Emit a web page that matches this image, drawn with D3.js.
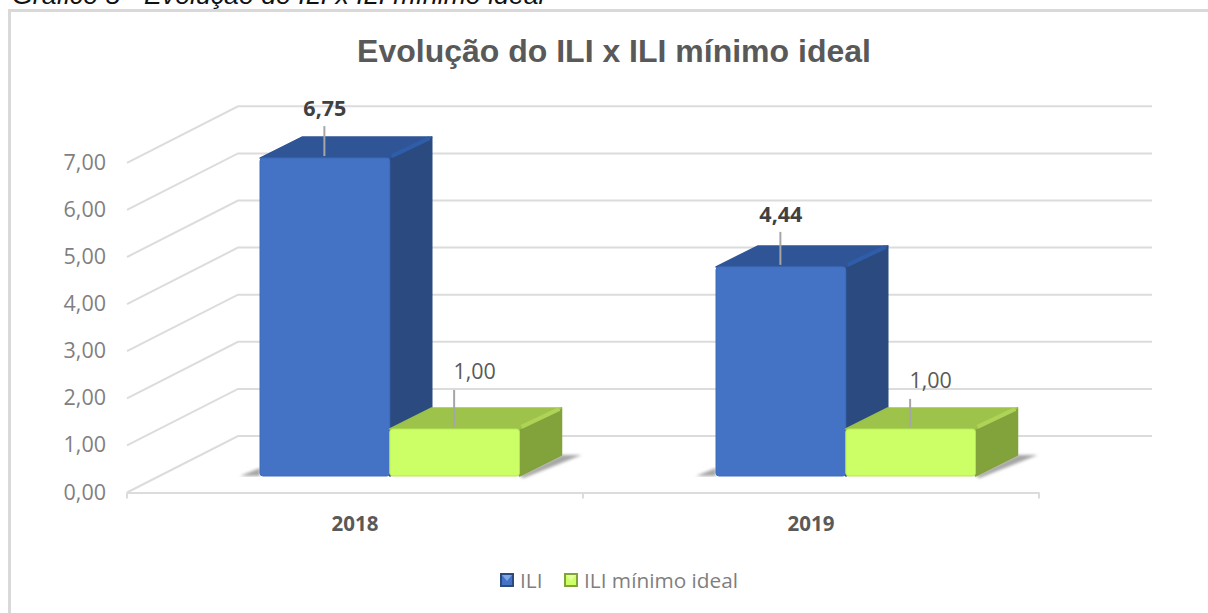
<!DOCTYPE html>
<html>
<head>
<meta charset="utf-8">
<script src="https://cdn.jsdelivr.net/npm/d3@7"></script>
<style>
  html, body { margin: 0; padding: 0; background: #fff; overflow: hidden; }
  svg { display: block; }
</style>
</head>
<body>
<div id="chart"></div>
<script>
// data
const categories = ["2018", "2019"];
const seriesNames = ["ILI", "ILI mínimo ideal"];
const iliValues = [6.75, 4.44];
const minimoValues = [1.00, 1.00];
const yTicks = [0, 1, 2, 3, 4, 5, 6, 7];

const width = 1208, height = 613;
const fmt = v => v.toFixed(2).replace(".", ",");
const labelFont = "'Open Sans', 'Noto Sans', sans-serif";

const svg = d3.select("#chart").append("svg")
  .attr("width", width)
  .attr("height", height);

// caption above the chart, the reference has it cut by the top edge too
svg.append("text")
  .attr("x", 12)
  .attr("y", 4)
  .style("font-family", "'Liberation Sans', Arial, sans-serif")
  .style("font-style", "italic")
  .style("font-size", "26.7px")
  .style("fill", "#111")
  .text("Gráfico 8 - Evolução do ILI x ILI mínimo ideal");

// chart frame, runs off the right and bottom of the picture
svg.append("path")
  .attr("d", `M9.5,${height}V10.5H${width}`)
  .attr("fill", "none")
  .attr("stroke", "#d9d9d9")
  .attr("stroke-width", 3);

svg.append("text")
  .attr("x", 614)
  .attr("y", 62)
  .attr("text-anchor", "middle")
  .style("font-family", "'Liberation Sans', Arial, sans-serif")
  .style("font-weight", "bold")
  .style("font-size", "32px")
  .style("fill", "#595959")
  .text("Evolução do ILI x ILI mínimo ideal");

// front plane scales, the walls and bars are pushed back from it
const x0 = d3.scaleBand().domain(categories).range([127, 1039]);
const x1 = d3.scaleBand().domain(seriesNames).range([100, 359.5]);
const y = d3.scaleLinear().domain([0, 7]).range([492.5, 162.8]);

const wallDepth = { dx: 111, dy: -56.5 };   // floor front edge to back wall
const barFront = { dx: 33, dy: -16.5 };     // floor front edge to bar front
const barDepth = { dx: 42, dy: -21 };       // bar front to bar back

// gridlines on the side wall and back wall, 0 is the back edge of the floor
const gridPath = v => {
  const xl = x0.range()[0];
  const xr = x0.range()[1] + wallDepth.dx + 2;
  return `M${xl},${y(v)}L${xl + wallDepth.dx},${y(v) + wallDepth.dy}L${xr},${y(v) + wallDepth.dy}`;
};

svg.append("g").selectAll("path")
  .data(yTicks)
  .enter().append("path")
    .attr("d", gridPath)
    .attr("fill", "none")
    .attr("stroke", "#dcdcdc")
    .attr("stroke-width", 2);

// category axis
const xAxis = svg.append("g")
  .attr("transform", `translate(0,${y(0)})`)
  .call(d3.axisBottom(x0).tickValues([]).tickSize(0));
xAxis.select(".domain").attr("stroke", "#dcdcdc").attr("stroke-width", 2);

const tickXs = [x0(categories[0]), x0(categories[1]), x0.range()[1]];
xAxis.selectAll("line.sep")
  .data(tickXs)
  .enter().append("line")
    .attr("class", "sep")
    .attr("x1", d => d).attr("x2", d => d)
    .attr("y1", 0).attr("y2", 6)
    .attr("stroke", "#dcdcdc")
    .attr("stroke-width", 2);

svg.selectAll("text.cat")
  .data(categories)
  .enter().append("text")
    .attr("class", "cat")
    .attr("x", d => x0(d) + x0.bandwidth() / 2)
    .attr("y", 531)
    .attr("text-anchor", "middle")
    .style("font-family", labelFont)
    .style("font-weight", "bold")
    .style("font-size", "20.5px")
    .style("fill", "#595959")
    .text(d => d);

// value axis labels
svg.selectAll("text.ytick")
  .data(yTicks)
  .enter().append("text")
    .attr("class", "ytick")
    .attr("x", 106)
    .attr("y", d => y(d) + 7)
    .attr("text-anchor", "end")
    .style("font-family", labelFont)
    .style("font-size", "21.5px")
    .style("fill", "#7f7f7f")
    .text(fmt);

// flatten to one row per bar
const bars = [];
categories.forEach((c, i) => {
  bars.push({ cat: c, name: seriesNames[0], value: iliValues[i] });
  bars.push({ cat: c, name: seriesNames[1], value: minimoValues[i] });
});

const colors = {
  "ILI": { front: "#4472c4", top: "#2f5597", side: "#2a4a80", edge: "#3f6cbc", bevel: "#2f5da8" },
  "ILI mínimo ideal": { front: "#ccff66", top: "#9dc34a", side: "#82a23c", edge: "#b4e455", bevel: "#aed356" }
};

// soft floor shadow behind the bars
const defs = svg.append("defs");
const blur = defs.append("filter").attr("id", "soft").attr("x", "-20%").attr("width", "140%");
blur.append("feGaussianBlur").attr("stdDeviation", 1.5);

categories.forEach(c => {
  const left = x0(c) + x1(seriesNames[0]) + barFront.dx;
  const right = x0(c) + x1(seriesNames[1]) + x1.bandwidth() + barFront.dx;
  const by = y(0) + barFront.dy;
  svg.append("path")
    .attr("d", `M${left - 20},${by}L${left},${by - 8}L${left},${by}Z`)
    .attr("fill", "#a6a6a6").attr("filter", "url(#soft)");
  svg.append("path")
    .attr("d", `M${right},${by}L${right + barDepth.dx},${by + barDepth.dy}L${right + barDepth.dx + 20},${by + barDepth.dy}L${right + 4},${by + 2}Z`)
    .attr("fill", "#a6a6a6").attr("filter", "url(#soft)");
});

// bars, blue first so the green one sits on top of its side face
const barG = svg.selectAll("g.bar")
  .data(bars)
  .enter().append("g")
    .attr("class", "bar")
    .attr("transform", d => `translate(${x0(d.cat) + x1(d.name) + barFront.dx},${barFront.dy})`);

const barW = x1.bandwidth();
const hVal = d => y(0) - y(d.value);

// side face
barG.append("path")
  .attr("d", d => `M${barW},${y(d.value)}l${barDepth.dx},${barDepth.dy}V${y(0) + barDepth.dy}L${barW},${y(0)}Z`)
  .attr("fill", d => colors[d.name].side)
  .attr("stroke", d => colors[d.name].side)
  .attr("stroke-linejoin", "round")
  .attr("stroke-width", 1.5);

// top face
barG.append("path")
  .attr("d", d => `M0,${y(d.value)}l${barDepth.dx},${barDepth.dy}h${barW}l${-barDepth.dx},${-barDepth.dy}Z`)
  .attr("fill", d => colors[d.name].top)
  .attr("stroke", d => colors[d.name].top)
  .attr("stroke-linejoin", "round")
  .attr("stroke-width", 1.5);

// brighter bevel where the top meets the side
barG.append("line")
  .attr("x1", barW + 2).attr("x2", barW + barDepth.dx - 2)
  .attr("y1", d => y(d.value) - 2)
  .attr("y2", d => y(d.value) + barDepth.dy + 1)
  .attr("stroke", d => colors[d.name].bevel)
  .attr("stroke-width", 4);

// front face
barG.append("rect")
  .attr("x", 0)
  .attr("y", d => y(d.value))
  .attr("width", barW)
  .attr("height", hVal)
  .attr("rx", 3)
  .attr("fill", d => colors[d.name].front)
  .attr("stroke", d => colors[d.name].edge)
  .attr("stroke-width", 1);

// data labels were dragged by hand in the original: offset from the front top edge
const labelPos = [
  { dx: 0, lineTop: -32, textY: -42, bold: true },
  { dx: 20, lineTop: -39, textY: -50, bold: false },
  { dx: 0, lineTop: -35, textY: -45, bold: true },
  { dx: 20, lineTop: -30, textY: -41, bold: false }
];

barG.append("line")
  .attr("x1", barW / 2 - 0.5).attr("x2", barW / 2 - 0.5)
  .attr("y1", (d, i) => y(d.value) + labelPos[i].lineTop)
  .attr("y2", d => y(d.value) - 2)
  .attr("stroke", "#a6a6a6")
  .attr("stroke-width", 2);

barG.append("text")
  .attr("x", (d, i) => barW / 2 + labelPos[i].dx)
  .attr("y", (d, i) => y(d.value) + labelPos[i].textY)
  .attr("text-anchor", "middle")
  .style("font-family", labelFont)
  .style("font-size", "21.5px")
  .style("font-weight", (d, i) => labelPos[i].bold ? "bold" : "normal")
  .style("fill", (d, i) => labelPos[i].bold ? "#404040" : "#595959")
  .text(d => fmt(d.value));

// legend
const legend = svg.append("g").attr("transform", "translate(500,573)");
const legendX = [0, 64];
seriesNames.forEach((name, i) => {
  const g = legend.append("g").attr("transform", `translate(${legendX[i]},0)`);
  g.append("rect").attr("width", 14).attr("height", 14).attr("fill", colors[name].side);
  g.append("rect").attr("x", 2).attr("y", 2).attr("width", 10).attr("height", 10).attr("fill", colors[name].front);
  g.append("path").attr("d", "M2,2H12L7,8Z").attr("fill", name === "ILI" ? "#7fa6e6" : "#e4ff99");
  g.append("text")
    .attr("x", 20)
    .attr("y", 15)
    .style("font-family", labelFont)
    .style("font-size", "20.8px")
    .style("fill", "#7f7f7f")
    .text(name);
});
</script>
</body>
</html>
